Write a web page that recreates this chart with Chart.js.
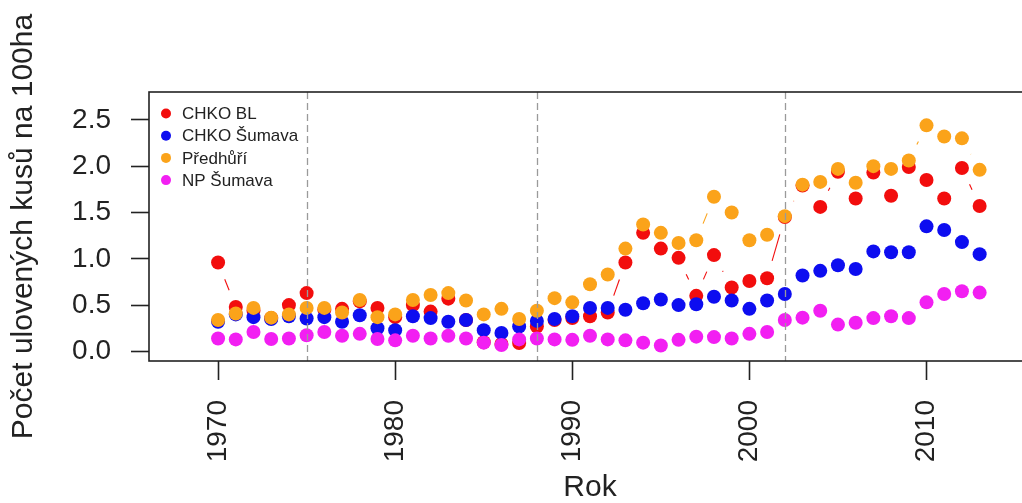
<!DOCTYPE html>
<html lang="cs">
<head>
<meta charset="utf-8">
<title>Počet ulovených kusů na 100ha</title>
<script src="https://cdn.jsdelivr.net/npm/chart.js@4"></script>
<style>
  html, body { margin: 0; padding: 0; background: #ffffff; overflow: hidden; width: 1022px; height: 503px; }
  #wrap { width: 1040px; height: 503px; }
</style>
</head>
<body>
<div id="wrap"><canvas id="chart" width="1040" height="503"></canvas></div>
<script>
// Hunting yield per 100 ha, 1970–2013
const years = [1970,1971,1972,1973,1974,1975,1976,1977,1978,1979,1980,1981,1982,1983,1984,1985,1986,1987,1988,1989,1990,1991,1992,1993,1994,1995,1996,1997,1998,1999,2000,2001,2002,2003,2004,2005,2006,2007,2008,2009,2010,2011,2012,2013];

const chkoBL = [0.96,0.48,0.44,0.36,0.50,0.63,0.45,0.46,0.54,0.47,0.37,0.50,0.43,0.57,0.34,0.10,0.08,0.09,0.27,0.34,0.36,0.38,0.42,0.96,1.28,1.11,1.01,0.60,1.04,0.69,0.76,0.79,1.45,1.79,1.56,1.94,1.65,1.93,1.68,1.99,1.85,1.65,1.98,1.57];

const chkoSumava = [0.32,0.40,0.37,0.35,0.38,0.355,0.37,0.32,0.39,0.25,0.23,0.38,0.36,0.32,0.34,0.23,0.20,0.27,0.33,0.35,0.38,0.47,0.47,0.45,0.52,0.56,0.50,0.51,0.59,0.55,0.46,0.55,0.62,0.82,0.87,0.93,0.89,1.08,1.07,1.07,1.35,1.31,1.18,1.05];

const predhuri = [0.34,0.41,0.47,0.365,0.40,0.47,0.47,0.42,0.555,0.37,0.40,0.555,0.61,0.63,0.55,0.40,0.46,0.35,0.44,0.575,0.53,0.725,0.83,1.11,1.37,1.28,1.17,1.20,1.67,1.50,1.20,1.26,1.46,1.80,1.83,1.97,1.82,2.00,1.97,2.06,2.44,2.32,2.30,1.96];

const npSumava = [0.14,0.13,0.21,0.135,0.14,0.175,0.21,0.17,0.19,0.135,0.12,0.17,0.14,0.17,0.14,0.095,0.07,0.13,0.14,0.13,0.125,0.17,0.13,0.12,0.095,0.065,0.125,0.16,0.155,0.14,0.19,0.21,0.34,0.365,0.44,0.29,0.31,0.36,0.38,0.36,0.53,0.62,0.65,0.635];

const seriesNames = ['CHKO BL', 'CHKO Šumava', 'Předhůří', 'NP Šumava'];
const seriesColors = ['#f20d0d', '#0d0df0', '#fba31a', '#f21ff2'];

const xTicks = [1970, 1980, 1990, 2000, 2010];
const yTicks = [0, 0.5, 1.0, 1.5, 2.0, 2.5];
const periodBreaks = [1975, 1988, 2002];

const FONT = '"Liberation Sans", Arial, Helvetica, sans-serif';
const INK = '#222222';

function toPoints(values) {
  return values.map((v, i) => ({ x: years[i], y: v }));
}

const allSeries = [chkoBL, chkoSumava, predhuri, npSumava];

const datasets = allSeries.map((vals, i) => ({
  label: seriesNames[i],
  data: toPoints(vals),
  backgroundColor: seriesColors[i],
  borderColor: seriesColors[i],
  borderWidth: 0,
  pointRadius: 7,
  pointHoverRadius: 7,
  pointBorderWidth: 0,
  showLine: false,
  // later series are painted over earlier ones
  order: allSeries.length - i
}));

// connecting segments with a gap around each point (like type = "b")
const GAP = 18;
const gapLines = {
  id: 'gapLines',
  beforeDatasetsDraw(chart) {
    const { ctx } = chart;
    chart.data.datasets.forEach((ds, i) => {
      const pts = chart.getDatasetMeta(i).data;
      ctx.save();
      ctx.strokeStyle = ds.borderColor;
      ctx.lineWidth = 1.1;
      for (let k = 0; k < pts.length - 1; k++) {
        const a = pts[k], b = pts[k + 1];
        const dx = b.x - a.x, dy = b.y - a.y;
        const d = Math.hypot(dx, dy);
        if (d <= 2 * GAP) continue;
        const ux = dx / d, uy = dy / d;
        ctx.beginPath();
        ctx.moveTo(a.x + ux * GAP, a.y + uy * GAP);
        ctx.lineTo(b.x - ux * GAP, b.y - uy * GAP);
        ctx.stroke();
      }
      ctx.restore();
    });
  }
};

// dashed vertical lines separating periods
const breakLines = {
  id: 'breakLines',
  afterDatasetsDraw(chart) {
    const { ctx, chartArea, scales } = chart;
    ctx.save();
    ctx.strokeStyle = '#9a9a9a';
    ctx.lineWidth = 1.3;
    ctx.setLineDash([7, 4]);
    periodBreaks.forEach(yr => {
      const x = Math.round(scales.x.getPixelForValue(yr)) + 0.5;
      ctx.beginPath();
      ctx.moveTo(x, chartArea.top);
      ctx.lineTo(x, chartArea.bottom);
      ctx.stroke();
    });
    ctx.restore();
  }
};

// plot frame
const frame = {
  id: 'frame',
  afterDraw(chart) {
    const { ctx, chartArea } = chart;
    ctx.save();
    ctx.strokeStyle = INK;
    ctx.lineWidth = 1.6;
    ctx.strokeRect(chartArea.left, chartArea.top, chartArea.right - chartArea.left, chartArea.bottom - chartArea.top);
    ctx.restore();
  }
};

// legend inside the plot, top-left, no box
const insetLegend = {
  id: 'insetLegend',
  afterDraw(chart) {
    const { ctx, chartArea } = chart;
    ctx.save();
    ctx.font = '17px ' + FONT;
    ctx.textBaseline = 'middle';
    ctx.textAlign = 'left';
    chart.data.datasets.forEach((ds, i) => {
      const cy = chartArea.top + 21.5 + i * 22.2;
      const cx = chartArea.left + 17;
      ctx.fillStyle = ds.backgroundColor;
      ctx.beginPath();
      ctx.arc(cx, cy, 5, 0, Math.PI * 2);
      ctx.fill();
      ctx.fillStyle = INK;
      ctx.fillText(ds.label, cx + 16, cy + 1);
    });
    ctx.restore();
  }
};

new Chart(document.getElementById('chart'), {
  type: 'scatter',
  data: { datasets },
  options: {
    responsive: false,
    animation: false,
    events: [],
    layout: { padding: { top: 92, right: 9, left: 0, bottom: 0 } },
    plugins: {
      legend: { display: false },
      tooltip: { enabled: false }
    },
    scales: {
      x: {
        type: 'linear',
        min: 1966.1,
        max: 2015.9,
        afterBuildTicks(scale) { scale.ticks = xTicks.map(v => ({ value: v })); },
        afterFit(scale) { scale.height = 142; },
        grid: {
          drawOnChartArea: false,
          drawTicks: true,
          tickLength: 19,
          tickWidth: 1.6,
          tickColor: INK
        },
        border: { display: false },
        ticks: {
          autoSkip: false,
          minRotation: 90,
          maxRotation: 90,
          padding: 20,
          color: INK,
          font: { family: FONT, size: 28 },
          callback: v => String(v)
        },
        title: {
          display: true,
          text: 'Rok',
          color: INK,
          font: { family: FONT, size: 30, lineHeight: 1.0 },
          padding: { top: 0, bottom: 0 }
        }
      },
      y: {
        type: 'linear',
        min: -0.103,
        max: 2.8,
        afterBuildTicks(scale) { scale.ticks = yTicks.map(v => ({ value: v })); },
        afterFit(scale) { scale.width = 149; },
        grid: {
          drawOnChartArea: false,
          drawTicks: true,
          tickLength: 18,
          tickWidth: 1.6,
          tickColor: INK
        },
        border: { display: false },
        ticks: {
          padding: 20,
          color: INK,
          font: { family: FONT, size: 28 },
          callback: v => Number(v).toFixed(1)
        },
        title: {
          display: true,
          text: 'Počet ulovených kusů na 100ha',
          color: INK,
          font: { family: FONT, size: 30, lineHeight: 1.2 },
          padding: { top: 6, bottom: 0 }
        }
      }
    }
  },
  plugins: [gapLines, breakLines, frame, insetLegend]
});
</script>
</body>
</html>
